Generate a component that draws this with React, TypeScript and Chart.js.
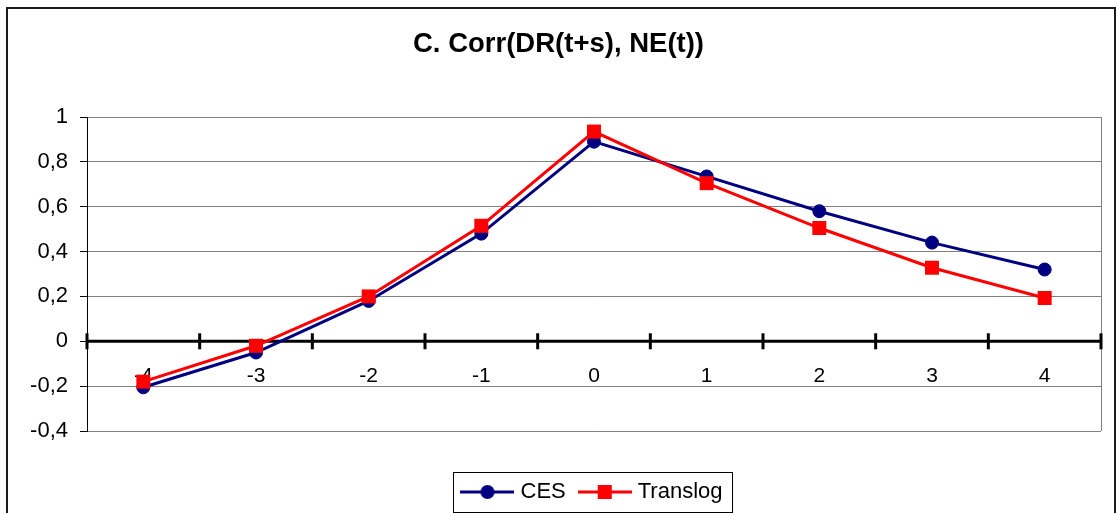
import React, { useEffect, useRef } from "react";
import { Chart, registerables } from "chart.js";

Chart.register(...registerables);

const categories = ["-4", "-3", "-2", "-1", "0", "1", "2", "3", "4"];
const cesValues = [-0.205, -0.05, 0.18, 0.48, 0.89, 0.735, 0.58, 0.44, 0.32];
const translogValues = [-0.18, -0.02, 0.2, 0.515, 0.935, 0.705, 0.505, 0.328, 0.193];
const yTickLabels: Record<string, string> = {
  "1": "1", "0.8": "0,8", "0.6": "0,6", "0.4": "0,4", "0.2": "0,2", "0": "0",
  "-0.2": "-0,2", "-0.4": "-0,4",
};
const titleText = "C. Corr(DR(t+s), NE(t))";
const seriesNames = ["CES", "Translog"];
const NAVY = "#000080";
const RED = "#FF0000";
const FONT = "'Liberation Sans', Arial, sans-serif";

function makeLegendIcon(color: string, square: boolean): HTMLCanvasElement {
  const c = document.createElement("canvas");
  c.width = 54;
  c.height = 16;
  const ctx = c.getContext("2d")!;
  ctx.strokeStyle = color;
  ctx.lineWidth = 3;
  ctx.beginPath();
  ctx.moveTo(0, 8);
  ctx.lineTo(54, 8);
  ctx.stroke();
  ctx.fillStyle = color;
  if (square) {
    ctx.fillRect(27 - 7, 1, 14, 14);
  } else {
    ctx.beginPath();
    ctx.arc(27, 8, 7, 0, Math.PI * 2);
    ctx.fill();
  }
  return c;
}

const framePlugin = {
  id: "frame",
  beforeDraw(chart: any) {
    const ctx = chart.ctx;
    ctx.save();
    ctx.fillStyle = "#fff";
    ctx.fillRect(0, 0, chart.width, chart.height);
    ctx.strokeStyle = "#1a1a1a";
    ctx.lineWidth = 2;
    ctx.strokeRect(7, 8, 1108, 530);
    ctx.restore();
  },
  beforeDatasetsDraw(chart: any) {
    const { ctx, chartArea, scales } = chart;
    const x = scales.x;
    const y = scales.y;
    ctx.save();
    ctx.strokeStyle = "#808080";
    ctx.lineWidth = 1;
    ctx.beginPath();
    ctx.moveTo(chartArea.right + 0.5, chartArea.top);
    ctx.lineTo(chartArea.right + 0.5, chartArea.bottom);
    ctx.stroke();
    const y0 = y.getPixelForValue(0);
    ctx.strokeStyle = "#000";
    ctx.lineWidth = 3;
    ctx.beginPath();
    ctx.moveTo(chartArea.left, y0);
    ctx.lineTo(chartArea.right + 1, y0);
    ctx.stroke();
    for (let i = 0; i <= categories.length; i++) {
      const px = x.getPixelForValue(i - 0.5);
      ctx.beginPath();
      ctx.moveTo(px, y0 - 8);
      ctx.lineTo(px, y0 + 8);
      ctx.stroke();
    }
    ctx.restore();
  },
  afterDraw(chart: any) {
    const lg = chart.legend;
    if (!lg || !lg.legendHitBoxes || !lg.legendHitBoxes.length) return;
    const hb = lg.legendHitBoxes;
    const first = hb[0];
    const last = hb[hb.length - 1];
    const cy = first.top + first.height / 2;
    const ctx = chart.ctx;
    ctx.save();
    ctx.strokeStyle = "#000";
    ctx.lineWidth = 1;
    const l = Math.round(first.left - 12) + 0.5;
    const r = Math.round(last.left + last.width + 9) + 0.5;
    const t = Math.round(cy - 20) + 0.5;
    const b = Math.round(cy + 20) + 0.5;
    ctx.strokeRect(l, t, r - l, b - t);
    ctx.restore();
  },
};

export default function App() {
  const canvasRef = useRef<HTMLCanvasElement | null>(null);

  useEffect(() => {
    document.body.style.margin = "0";
    const canvas = canvasRef.current;
    if (!canvas) return;
    const icons = [makeLegendIcon(NAVY, false), makeLegendIcon(RED, true)];
    const chart = new Chart(canvas, {
      type: "line",
      data: {
        labels: categories,
        datasets: [
          {
            label: seriesNames[0],
            data: cesValues,
            borderColor: NAVY,
            backgroundColor: NAVY,
            borderWidth: 3,
            pointStyle: "circle",
            pointRadius: 6.5,
            pointBorderWidth: 1,
            pointBorderColor: NAVY,
            pointBackgroundColor: NAVY,
            tension: 0,
            order: 1,
          },
          {
            label: seriesNames[1],
            data: translogValues,
            borderColor: RED,
            backgroundColor: RED,
            borderWidth: 3,
            pointStyle: "rect",
            pointRadius: 9.9,
            pointBorderWidth: 0,
            pointBackgroundColor: RED,
            tension: 0,
            order: 0,
          },
        ],
      },
      options: {
        animation: false,
        responsive: true,
        maintainAspectRatio: false,
        events: [],
        layout: { padding: { left: 0, right: 0, top: 0, bottom: 0 } },
        scales: {
          x: {
            type: "category",
            position: { y: 0 } as any,
            offset: true,
            grid: { display: false, drawTicks: false, offset: true },
            border: { display: false },
            ticks: {
              color: "#000",
              font: { family: FONT, size: 21 },
              padding: 22,
              maxRotation: 0,
              autoSkip: false,
            },
          },
          y: {
            min: -0.4,
            max: 1,
            afterFit(scale: any) {
              scale.width = 87;
            },
            ticks: {
              stepSize: 0.2,
              color: "#000",
              font: { family: FONT, size: 22 },
              padding: 12,
              callback(value: any) {
                const key = String(Math.round(Number(value) * 10) / 10);
                return yTickLabels[key] ?? key;
              },
            },
            grid: {
              color: "#808080",
              lineWidth: 1,
              tickColor: "#000",
              tickLength: 7,
            },
            border: { display: true, color: "#000", width: 1 },
          },
          ySpacer: {
            type: "linear",
            position: "right",
            display: true,
            min: -0.4,
            max: 1,
            afterFit(scale: any) {
              scale.width = 16;
            },
            ticks: { display: false },
            grid: { display: false, drawTicks: false, drawOnChartArea: false },
            border: { display: false },
          },
        },
        plugins: {
          title: {
            display: true,
            text: titleText,
            color: "#000",
            font: { family: FONT, size: 27.5, weight: "bold" },
            padding: { top: 27.5, bottom: 56.5 },
          },
          legend: {
            display: true,
            position: "bottom",
            fullSize: false,
            align: "center",
            title: {
              display: true,
              text: " ",
              font: { family: FONT, size: 10 },
              padding: { top: 21, bottom: 0 },
            },
            labels: {
              color: "#000",
              font: { family: FONT, size: 22 },
              usePointStyle: true,
              pointStyleWidth: 44,
              padding: 17,
              generateLabels() {
                return seriesNames.map((name, i) => ({
                  text: name,
                  pointStyle: icons[i] as any,
                  fillStyle: i === 0 ? NAVY : RED,
                  strokeStyle: i === 0 ? NAVY : RED,
                  lineWidth: 0,
                  hidden: false,
                  datasetIndex: i,
                  fontColor: "#000",
                }));
              },
            },
          },
          tooltip: { enabled: false },
        },
      },
      plugins: [framePlugin],
    });
    return () => chart.destroy();
  }, []);

  return (
    <div style={{ position: "fixed", left: 0, top: 0, width: "1117px", height: "513px" }}>
      <canvas ref={canvasRef} />
    </div>
  );
}
